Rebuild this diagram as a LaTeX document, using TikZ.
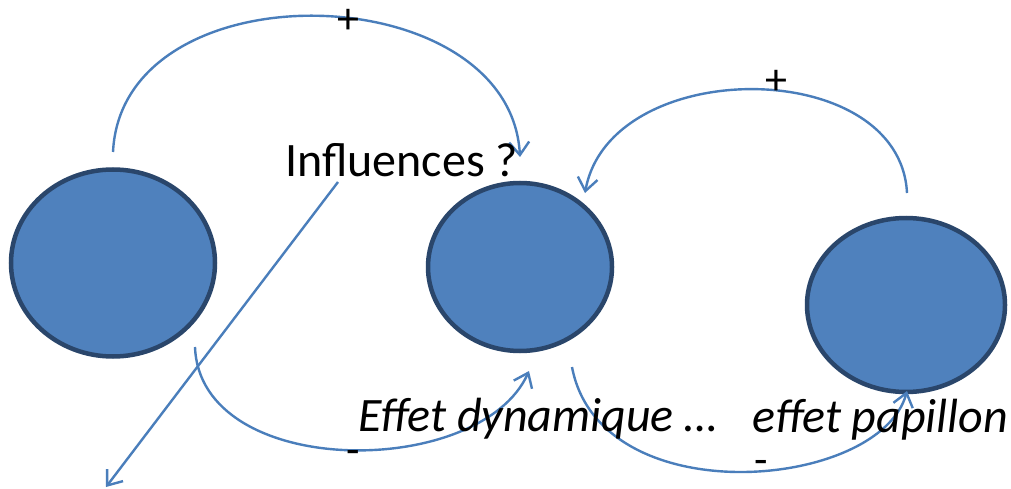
\documentclass[tikz,border=0pt]{standalone}
\usepackage{fontspec}
\setmainfont{Carlito}
\usetikzlibrary{shapes.geometric,arrows.meta}
\definecolor{fillblue}{HTML}{4F81BD}
\definecolor{edgeblue}{HTML}{2A466B}
\definecolor{linkblue}{HTML}{4A7EBB}
\tikzset{
  blob/.style={ellipse, draw=edgeblue, fill=fillblue, line width=4.5pt, inner sep=0pt},
  link/.style={draw=linkblue, line width=2.4pt, -{Straight Barb[length=13pt,width=20pt,line width=2.4pt]}},
  bigtext/.style={font=\fontsize{48}{56}\selectfont, inner sep=0pt, anchor=base west},
  sign/.style={font=\fontsize{44}{48}\selectfont, inner sep=0pt, anchor=base}
}
\begin{document}
\begin{tikzpicture}[x=1pt,y=-1pt]
\useasboundingbox (0,0) rectangle (1011,489);
\fill[white] (0,0) rectangle (1011,489);
\node[blob, minimum width=204pt, minimum height=187pt] (left) at (113,263) {};
\node[blob, minimum width=184pt, minimum height=168pt] (mid) at (520,267) {};
\node[blob, minimum width=198pt, minimum height=174pt] (right) at (906,305) {};

\coordinate (s1) at (113,152);
\coordinate (e1) at (520,157);
\coordinate (s2) at (907,193);
\coordinate (e2) at (585,193);
\coordinate (s3) at (195,347);
\coordinate (e3) at (529,371);
\coordinate (s4) at (572,367);
\coordinate (e4) at (907,391);
\coordinate (s5) at (338,182);
\coordinate (e5) at (106,487);

\draw[link] (s1) .. controls (122,-35) and (510,-25) .. (e1);
\draw[link] (s2) .. controls (900,55) and (610,55) .. (e2);
\draw[link] (s3) .. controls (200,480) and (480,480) .. (e3);
\draw[link] (s4) .. controls (600,515) and (880,490) .. (e4);
\draw[link] (s5) -- (e5);

\node[bigtext] (infl) at (285,177) {Influences ?};
\node[bigtext, font=\fontsize{48}{56}\selectfont\itshape] (dyn) at (358,431) {Effet dynamique …};
\node[bigtext, font=\fontsize{48}{56}\selectfont\itshape] (pap) at (752,432) {effet papillon};

\node[sign] (p1) at (348,34) {+};
\node[sign] (p2) at (776,95) {+};
\node[sign] (m1) at (353,464) {-};
\node[sign] (m2) at (761,474) {-};
\end{tikzpicture}
\end{document}
